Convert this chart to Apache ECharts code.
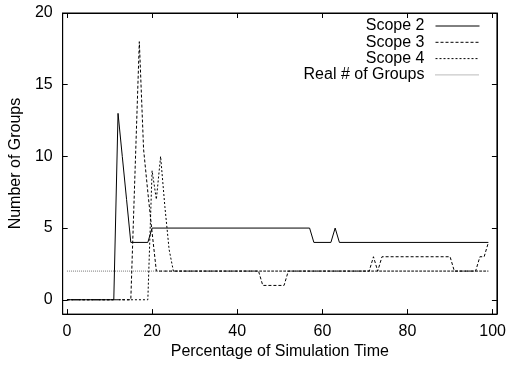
<!DOCTYPE html>
<html>
<head>
<meta charset="utf-8">
<script src="https://cdn.jsdelivr.net/npm/echarts@6/dist/echarts.min.js"></script>
<style>
html,body{margin:0;padding:0;background:#fff;}
#chart{width:509px;height:365px;}
</style>
</head>
<body>
<div id="chart"></div>
<script>
// Data (x = % of simulation time, y = number of groups)
const scope2X = [0, 11, 12, 13, 14, 15, 19, 20, 57, 58, 62, 63, 64, 99];
const scope2Y = [0, 0, 13, 10, 7, 4, 4, 5, 5, 4, 4, 5, 4, 4];

const scope3X = [0, 15, 16, 17, 18, 19, 20, 21, 45, 46, 51, 52, 71, 72, 73, 74, 90, 91, 96, 97, 98, 99];
const scope3Y = [0, 0, 9, 18, 10.5, 7.5, 4.7, 2, 2, 1, 1, 2, 2, 3, 2, 3, 3, 2, 2, 3, 3, 4];

const scope4X = [0, 19, 20, 21, 22, 23, 24, 25, 99];
const scope4Y = [0, 0, 9, 7, 10, 6.5, 3.5, 2, 2];

const realX = [0, 99];
const realY = [2, 2];

const xTicks = [0, 20, 40, 60, 80, 100];
const yTicks = [0, 5, 10, 15, 20];

const seriesNames = ['Scope 2', 'Scope 3', 'Scope 4', 'Real # of Groups'];

function pairs(xs, ys) { return xs.map((x, i) => [x, ys[i]]); }

const FONT = 'Liberation Sans, Arial, sans-serif';
const chart = echarts.init(document.getElementById('chart'), null, {renderer: 'canvas'});

const baseX = {
  type: 'value', min: -1, max: 101,
  axisLine: {show: true, onZero: false, lineStyle: {color: '#000', width: 1}},
  splitLine: {show: false}
};
const baseY = {
  type: 'value', min: -1, max: 20,
  axisLine: {show: true, onZero: false, lineStyle: {color: '#000', width: 1}},
  splitLine: {show: false}
};

const option = {
  animation: false,
  backgroundColor: '#fff',
  textStyle: {fontFamily: FONT},
  grid: {left: 62, right: 9, top: 13, bottom: 50, show: true, borderColor: '#000', borderWidth: 1, backgroundColor: 'transparent'},
  legend: {
    orient: 'vertical', right: 29, top: 18, align: 'right', padding: 0,
    itemWidth: 44, itemHeight: 10, itemGap: 0.3,
    itemStyle: {opacity: 0, borderWidth: 0},
    lineStyle: {width: 1},
    textStyle: {fontFamily: FONT, fontSize: 16, color: '#000', lineHeight: 16, padding: [0, 6, 0, 0]},
    data: seriesNames
  },
  xAxis: [
    Object.assign({}, baseX, {
      position: 'bottom',
      name: 'Percentage of Simulation Time', nameLocation: 'middle', nameGap: 25,
      nameTextStyle: {fontFamily: FONT, fontSize: 16, color: '#000'},
      axisTick: {show: true, inside: true, length: 5, lineStyle: {color: '#000'}, customValues: xTicks},
      axisLabel: {show: true, fontFamily: FONT, fontSize: 16, color: '#000', margin: 9, customValues: xTicks}
    }),
    Object.assign({}, baseX, {
      position: 'top',
      axisTick: {show: true, inside: true, length: 5, lineStyle: {color: '#000'}, customValues: xTicks},
      axisLabel: {show: false}
    })
  ],
  yAxis: [
    Object.assign({}, baseY, {
      position: 'left',
      name: 'Number of Groups', nameLocation: 'middle', nameGap: 35, nameRotate: 90,
      nameTextStyle: {fontFamily: FONT, fontSize: 16, color: '#000'},
      axisTick: {show: true, inside: true, length: 5, lineStyle: {color: '#000'}, customValues: yTicks},
      axisLabel: {show: true, fontFamily: FONT, fontSize: 16, color: '#000', margin: 10, customValues: yTicks}
    }),
    Object.assign({}, baseY, {
      position: 'right',
      axisTick: {show: true, inside: true, length: 5, lineStyle: {color: '#000'}, customValues: yTicks},
      axisLabel: {show: false}
    })
  ],
  series: [
    {name: seriesNames[0], type: 'line', xAxisIndex: 0, yAxisIndex: 0, symbol: 'none', showSymbol: false,
     data: pairs(scope2X, scope2Y), lineStyle: {color: '#000', width: 1, type: 'solid'}, itemStyle: {color: '#000'}, z: 4},
    {name: seriesNames[1], type: 'line', xAxisIndex: 0, yAxisIndex: 0, symbol: 'none', showSymbol: false,
     data: pairs(scope3X, scope3Y), lineStyle: {color: '#000', width: 1, type: [3, 2]}, itemStyle: {color: '#000'}, z: 3},
    {name: seriesNames[2], type: 'line', xAxisIndex: 0, yAxisIndex: 0, symbol: 'none', showSymbol: false,
     data: pairs(scope4X, scope4Y), lineStyle: {color: '#000', width: 1, type: [2, 2]}, itemStyle: {color: '#000'}, z: 2},
    {name: seriesNames[3], type: 'line', xAxisIndex: 0, yAxisIndex: 0, symbol: 'none', showSymbol: false,
     data: pairs(realX, realY), lineStyle: {color: '#777', width: 1, type: [1, 1]}, itemStyle: {color: '#777'}, z: 1}
  ]
};
chart.setOption(option);
</script>
</body>
</html>
